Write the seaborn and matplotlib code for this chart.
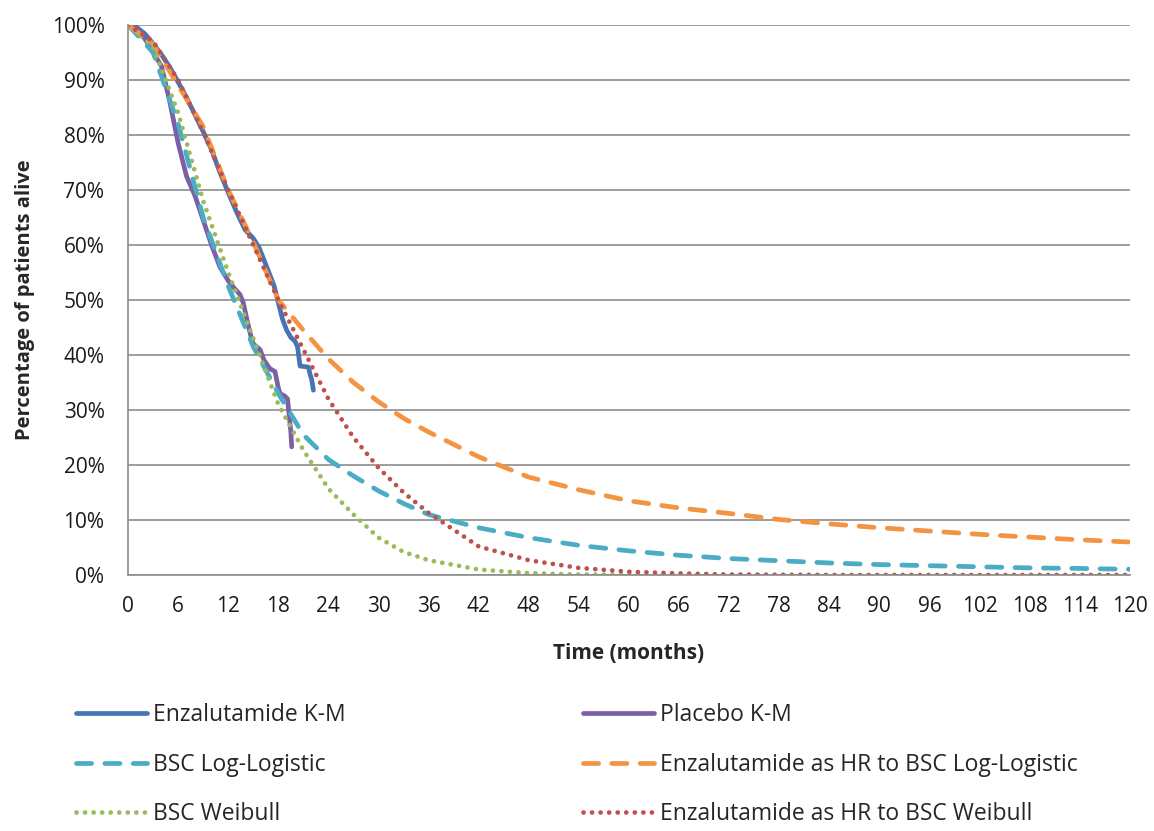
# Survival curves: K-M data and extrapolations
import pandas as pd
import numpy as np
import matplotlib
matplotlib.use('Agg')
import matplotlib.pyplot as plt
import seaborn as sns
from matplotlib.ticker import FuncFormatter

# Kaplan-Meier curves (months, % alive)
enza_km_t = [0, 1, 2, 3, 4, 5, 6, 7, 8, 9, 10, 11, 12, 13, 14, 15, 15.7, 16.3, 17,
             17.5, 18, 18.5, 19, 19.5, 20, 20.3, 20.6, 21.6, 21.8, 22, 22.2]
enza_km_s = [100, 99.6, 98.4, 96.6, 94.6, 92.3, 89.6, 86.8, 83.7, 80.6, 77.3, 73.2, 69.5,
             66, 62.8, 61.2, 59.5, 57.2, 54.5, 52.5, 49.5, 46.5, 44.5, 43.2, 42.5, 41.5,
             38, 37.8, 36.5, 35.5, 33.6]
placebo_km_t = [0, 1, 2, 3, 4, 5, 6, 7, 8, 9, 10, 11, 12, 12.8, 13.4, 13.8, 14.3, 14.7,
                15, 15.8, 16.3, 17, 17.6, 18, 18.2, 18.8, 19.1, 19.3, 19.5, 19.6]
placebo_km_s = [100, 99.5, 97.5, 95, 92.5, 86, 78.5, 72.5, 69, 64.5, 60, 56, 53.5, 52, 51,
                49.5, 46, 43.5, 42, 41, 39, 37.5, 37, 34, 33, 32.5, 32, 29, 26, 23.3]

# Modelled curves (months, % alive)
model_t = [0, 3, 6, 9, 12, 15, 18, 21, 24, 27, 30, 33, 36, 42, 48, 54, 60, 66, 72, 78,
           84, 90, 96, 102, 108, 114, 120]
bsc_ll = [100, 95, 82, 65, 52.5, 41.5, 33, 25.5, 21, 18, 15.3, 13, 11, 8.6, 6.8, 5.4, 4.4,
          3.6, 3.0, 2.6, 2.2, 1.9, 1.7, 1.5, 1.3, 1.2, 1.05]
enza_ll = [100, 96.5, 89, 81.5, 70, 60.5, 50, 44.5, 39.3, 35, 31.5, 28.5, 26, 21.5, 17.8,
           15.5, 13.5, 12.2, 11.2, 10.1, 9.3, 8.6, 8.0, 7.4, 6.9, 6.4, 6.0]
bsc_wb = [100, 96, 84, 68, 55, 43, 31, 22.7, 15.7, 11, 6.8, 4.2, 2.7, 1.0, 0.35, 0.1, 0.03,
          0, 0, 0, 0, 0, 0, 0, 0, 0, 0]
enza_wb = [100, 97, 90, 80.5, 70, 60, 50, 41, 32, 25, 19.5, 15, 11.3, 5.2, 2.7, 1.3, 0.6,
           0.3, 0.1, 0.05, 0, 0, 0, 0, 0, 0, 0]

x_ticks = list(range(0, 121, 6))

series = [
    ('Enzalutamide K-M', enza_km_t, enza_km_s, '#4675B4', 'solid'),
    ('Placebo K-M', placebo_km_t, placebo_km_s, '#7D5FA5', 'solid'),
    ('BSC Log-Logistic', model_t, bsc_ll, '#4BACC6', 'dashed'),
    ('Enzalutamide as HR to BSC Log-Logistic', model_t, enza_ll, '#F39443', 'dashed'),
    ('BSC Weibull', model_t, bsc_wb, '#9BBB59', 'dotted'),
    ('Enzalutamide as HR to BSC Weibull', model_t, enza_wb, '#C0504D', 'dotted'),
]

sns.set_style('white')
plt.rcParams['font.family'] = ['Open Sans', 'DejaVu Sans']

fig = plt.figure(figsize=(11.54, 8.31), dpi=100)
ax = fig.add_axes([0.111, 0.308, 0.868, 0.662])

handles = {}
for name, t, s, col, style in series:
    df = pd.DataFrame({'Time': t, 'Surv': s})
    sns.lineplot(data=df, x='Time', y='Surv', ax=ax, color=col, linewidth=3.4,
                 label=name, sort=False, estimator=None)
    ln = ax.lines[-1]
    if style == 'solid':
        ln.set_solid_capstyle('round')
        ln.set_solid_joinstyle('round')
    elif style == 'dashed':
        ln.set_dashes((3.2, 2.8))
        ln.set_dash_capstyle('round')
    else:
        ln.set_dashes((0.01, 1.8))
        ln.set_dash_capstyle('round')
    handles[name] = ln

ax.set_xlim(0, 120)
ax.set_ylim(0, 100)
ax.set_xticks(x_ticks)
ax.set_yticks(range(0, 101, 10))
ax.yaxis.set_major_formatter(FuncFormatter(lambda v, p: f'{int(v)}%'))
ax.grid(axis='y', color='#8c8c8c', linewidth=1.2)
ax.set_axisbelow(True)
for sp in ['top', 'right']:
    ax.spines[sp].set_visible(False)
for sp in ['left', 'bottom']:
    ax.spines[sp].set_color('#8c8c8c')
    ax.spines[sp].set_linewidth(1.2)
ax.tick_params(axis='both', direction='out', width=1.2, color='#8c8c8c',
               labelsize=15, labelcolor='#1a1a1a')
ax.tick_params(axis='x', length=6, pad=9)
ax.tick_params(axis='y', length=5, pad=12)
ax.set_xlabel('Time (months)', fontsize=15, fontweight='bold')
ax.set_ylabel('Percentage of patients alive', fontsize=14.5, fontweight='bold')
ax.xaxis.set_label_coords(0.5, -0.123)
ax.yaxis.set_label_coords(-0.093, 0.5)

order = ['Enzalutamide K-M', 'BSC Log-Logistic', 'BSC Weibull', 'Placebo K-M',
         'Enzalutamide as HR to BSC Log-Logistic', 'Enzalutamide as HR to BSC Weibull']
ax.legend_.remove()
fig.legend([handles[k] for k in order], order, loc='upper left', ncol=2,
           bbox_to_anchor=(0.066, 0.154), frameon=False, fontsize=16.5,
           handlelength=3.1, handletextpad=0.25, labelspacing=1.12, columnspacing=10.35,
           borderpad=0, borderaxespad=0)

fig.savefig('out.png', dpi=100)
